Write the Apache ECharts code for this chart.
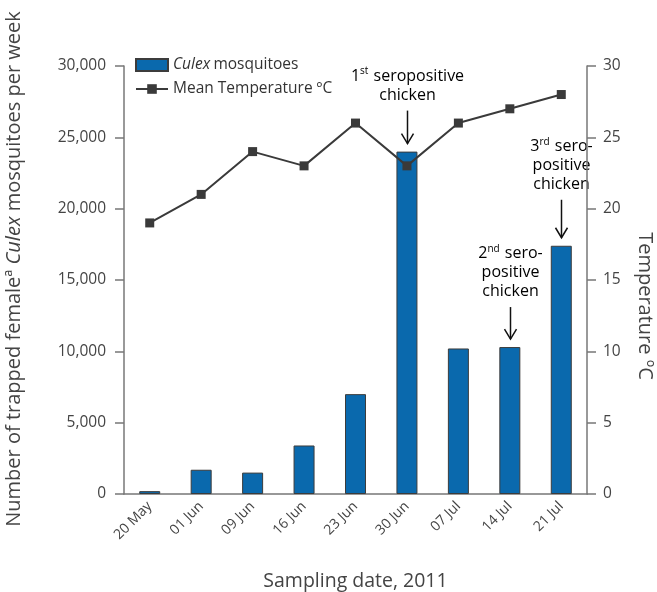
<!DOCTYPE html>
<html>
<head>
<meta charset="utf-8">
<script src="https://cdn.jsdelivr.net/npm/echarts@6/dist/echarts.min.js"></script>
<style>
  html, body { margin: 0; padding: 0; background: #fff; }
  #chart { width: 657px; height: 592px; }
</style>
</head>
<body>
<div id="chart"></div>
<script>
// sampling dates
const dates = ['20 May', '01 Jun', '09 Jun', '16 Jun', '23 Jun', '30 Jun', '07 Jul', '14 Jul', '21 Jul'];
// trapped female Culex per week
const culex = [200, 1700, 1500, 3400, 7000, 24000, 10200, 10300, 17400];
// mean temperature (C)
const temperature = [19, 21, 24, 23, 26, 23, 26, 27, 28];
// seropositive chicken notes
const notes = [
  { date: '30 Jun', text: '{n|1}{sup|st}{n| seropositive}\n{n|chicken}', len: 33 },
  { date: '14 Jul', text: '{n|2}{sup|nd}{n| sero-}\n{n|positive}\n{n|chicken}', len: 32 },
  { date: '21 Jul', text: '{n|3}{sup|rd}{n| sero-}\n{n|positive}\n{n|chicken}', len: 38 }
];

const font = 'Open Sans';
const chart = echarts.init(document.getElementById('chart'));

const richText = {
  n: { fontFamily: font, fontSize: 16, color: '#555', lineHeight: 19 },
  sup: { fontFamily: font, fontSize: 10, color: '#555', lineHeight: 19, verticalAlign: 'top', padding: [0, 1, 6, 0] }
};

let option = {
  animation: false,
  grid: { left: 124, right: 70, top: 66, bottom: 98, outerBoundsMode: 'none' },
  legend: {
    orient: 'vertical',
    left: 135,
    top: 57,
    padding: 0,
    itemWidth: 32,
    itemHeight: 12,
    itemGap: 8,
    data: [{ name: 'Culex mosquitoes', icon: 'rect' }, { name: 'Mean Temperature ºC' }],
    formatter: function (name) {
      if (name === 'Culex mosquitoes') return '{i|Culex} {t|mosquitoes}';
      return '{t|' + name + '}';
    },
    textStyle: {
      rich: {
        i: { fontFamily: font, fontSize: 15.5, fontStyle: 'italic', color: '#333' },
        t: { fontFamily: font, fontSize: 15.5, color: '#333' }
      }
    }
  },
  xAxis: {
    type: 'category',
    data: dates,
    name: 'Sampling date, 2011',
    nameLocation: 'middle',
    nameGap: 77,
    nameTextStyle: { fontFamily: font, fontSize: 19.5, color: '#444' },
    axisLine: { lineStyle: { color: '#777', width: 1.5 } },
    axisTick: { show: false },
    axisLabel: { rotate: 45, margin: 10, fontFamily: font, fontSize: 14, color: '#444' }
  },
  yAxis: [
    {
      type: 'value',
      min: 0,
      max: 30000,
      interval: 5000,
      name: 'Number of trapped femaleª {i|Culex} mosquitoes per week',
      nameLocation: 'middle',
      nameGap: 100,
      nameTextStyle: {
        fontFamily: font, fontSize: 20, color: '#444',
        padding: [0, 0, 0, 22],
        rich: { i: { fontFamily: font, fontSize: 20, fontStyle: 'italic', color: '#444' } }
      },
      splitLine: { show: false },
      axisLine: { show: true, lineStyle: { color: '#777', width: 1.5 } },
      axisTick: { show: true, inside: false, length: 9, lineStyle: { color: '#777', width: 1.5 } },
      axisLabel: {
        margin: 18, fontFamily: font, fontSize: 15.5, color: '#444',
        formatter: v => v.toLocaleString('en-US')
      }
    },
    {
      type: 'value',
      min: 0,
      max: 30,
      interval: 5,
      position: 'right',
      name: 'Temperature ºC',
      nameLocation: 'middle',
      nameGap: 48,
      nameRotate: -90,
      nameTextStyle: { fontFamily: font, fontSize: 20, color: '#444', padding: [0, 0, 0, 52] },
      splitLine: { show: false },
      axisLine: { show: true, lineStyle: { color: '#777', width: 1.5 } },
      axisTick: { show: true, inside: false, length: 9, lineStyle: { color: '#777', width: 1.5 } },
      axisLabel: { margin: 16, fontFamily: font, fontSize: 15.5, color: '#444' }
    }
  ],
  series: [
    {
      name: 'Culex mosquitoes',
      type: 'bar',
      data: culex,
      barWidth: 21,
      itemStyle: { color: '#0a69ad', borderColor: '#3c3c3c', borderWidth: 1 }
    },
    {
      name: 'Mean Temperature ºC',
      type: 'line',
      yAxisIndex: 1,
      data: temperature,
      symbol: 'rect',
      symbolSize: 9,
      lineStyle: { color: '#3a3a3a', width: 2 },
      itemStyle: { color: '#3a3a3a' },
      z: 5
    }
  ]
};

chart.setOption(option);

// arrows and labels above the seropositive bars
let graphics = [];
notes.forEach(function (n) {
  const idx = dates.indexOf(n.date);
  const p = chart.convertToPixel({ seriesIndex: 0 }, [idx, culex[idx]]);
  const x = Math.round(p[0]) + 0.5;
  const yEnd = p[1] - 8;
  const yStart = yEnd - n.len;
  graphics.push({
    type: 'line',
    shape: { x1: x, y1: yStart, x2: x, y2: yEnd },
    style: { stroke: '#111', lineWidth: 1.5 }
  });
  graphics.push({
    type: 'polyline',
    shape: { points: [[x - 6, yEnd - 10], [x, yEnd], [x + 6, yEnd - 10]] },
    style: { stroke: '#111', lineWidth: 1.5, fill: null }
  });
  graphics.push({
    type: 'text',
    x: x,
    y: yStart - 6,
    style: {
      text: n.text,
      rich: richText,
      align: 'center',
      verticalAlign: 'bottom'
    }
  });
});
chart.setOption({ graphic: graphics });
</script>
</body>
</html>
